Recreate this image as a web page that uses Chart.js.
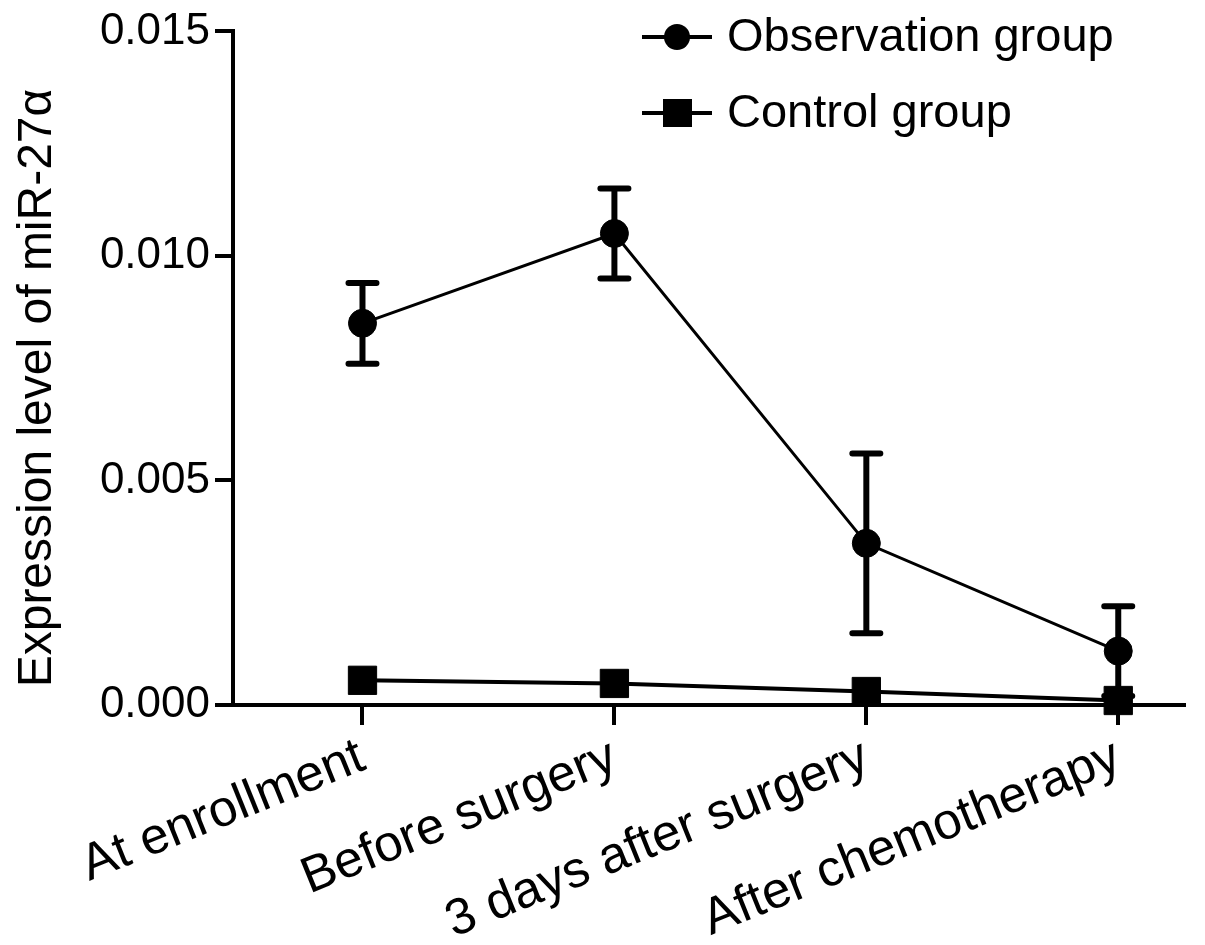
<!DOCTYPE html>
<html>
<head>
<meta charset="utf-8">
<script src="https://cdn.jsdelivr.net/npm/chart.js@4.4.1/dist/chart.umd.min.js"></script>
<style>
  html, body { margin: 0; padding: 0; background: #ffffff; }
  #wrap { width: 1205px; height: 945px; position: relative; }
</style>
</head>
<body>
<div id="wrap"><canvas id="c" width="1205" height="945"></canvas></div>
<script>
// ---- data ----
const categories = ['At enrollment', 'Before surgery', '3 days after surgery', 'After chemotherapy'];
const observationMean = [0.0085, 0.0105, 0.0036, 0.0012];
const observationErr = [0.0009, 0.0010, 0.0020, 0.0010];
const controlMean = [0.00055, 0.00048, 0.00030, 0.00010];
const yTickValues = [0, 0.005, 0.010, 0.015];
const seriesNames = ['Observation group', 'Control group'];
const yTitle = 'Expression level of miR-27\u03B1';

const FONT = "'Liberation Sans', Arial, sans-serif";

const toPoints = arr => arr.map((v, i) => ({ x: i, y: v }));

const errorBarPlugin = {
  id: 'errorBars',
  afterDatasetsDraw(chart) {
    const ctx = chart.ctx;
    const xs = chart.scales.x, ys = chart.scales.y;
    ctx.save();
    ctx.strokeStyle = '#000';
    observationMean.forEach((m, i) => {
      const e = observationErr[i];
      const px = xs.getPixelForValue(i);
      const top = ys.getPixelForValue(m + e);
      const bot = ys.getPixelForValue(Math.max(0, m - e));
      ctx.lineWidth = 6;
      ctx.lineCap = 'butt';
      ctx.beginPath();
      ctx.moveTo(px, top); ctx.lineTo(px, bot);
      ctx.stroke();
      ctx.lineCap = 'round';
      ctx.beginPath();
      ctx.moveTo(px - 14, top); ctx.lineTo(px + 14, top);
      if (m - e > 0) { ctx.moveTo(px - 14, bot); ctx.lineTo(px + 14, bot); }
      ctx.stroke();
    });
    ctx.restore();
  }
};

const textPlugin = {
  id: 'customText',
  afterDraw(chart) {
    const ctx = chart.ctx;
    ctx.save();
    ctx.fillStyle = '#000';
    ctx.strokeStyle = '#000';
    // legend
    ctx.font = '47px ' + FONT;
    ctx.textBaseline = 'middle';
    ctx.textAlign = 'left';
    const rows = [37, 113];
    rows.forEach((y, k) => {
      ctx.lineWidth = 4;
      ctx.beginPath();
      ctx.moveTo(642, y); ctx.lineTo(712, y);
      ctx.stroke();
      ctx.beginPath();
      if (k === 0) {
        ctx.arc(677, y, 13, 0, Math.PI * 2);
      } else {
        ctx.rect(663, y - 14, 29, 28);
      }
      ctx.fill();
      ctx.fillText(seriesNames[k], 727, y + 1);
    });
    // y axis title
    ctx.save();
    ctx.translate(38, 388);
    ctx.rotate(-Math.PI / 2);
    ctx.font = '48px ' + FONT;
    ctx.textAlign = 'center';
    ctx.textBaseline = 'middle';
    ctx.fillText(yTitle, 0, 0);
    ctx.restore();
    ctx.restore();
  }
};

new Chart(document.getElementById('c'), {
  type: 'line',
  data: {
    datasets: [
      {
        label: seriesNames[0],
        data: toPoints(observationMean),
        borderColor: '#000',
        backgroundColor: '#000',
        borderWidth: 3,
        pointStyle: 'circle',
        pointRadius: 14,
        pointBackgroundColor: '#000',
        pointBorderColor: '#000',
        pointBorderWidth: 1,
        tension: 0,
        clip: false
      },
      {
        label: seriesNames[1],
        data: toPoints(controlMean),
        borderColor: '#000',
        backgroundColor: '#000',
        borderWidth: 4,
        pointStyle: 'rect',
        pointRadius: 20,
        pointBackgroundColor: '#000',
        pointBorderColor: '#000',
        pointBorderWidth: 1,
        tension: 0,
        clip: false
      }
    ]
  },
  options: {
    responsive: false,
    animation: false,
    devicePixelRatio: 1,
    layout: { padding: { left: 0, right: 17, top: 28, bottom: 0 } },
    plugins: { legend: { display: false }, tooltip: { enabled: false } },
    scales: {
      x: {
        type: 'linear',
        min: -0.514,
        max: 3.261,
        afterBuildTicks: s => { s.ticks = categories.map((_, i) => ({ value: i })); },
        afterFit: s => { s.height = 240; },
        border: { display: true, color: '#000', width: 4 },
        grid: { display: true, drawOnChartArea: false, drawTicks: true, tickLength: 20, color: '#000', lineWidth: 4 },
        ticks: {
          autoSkip: false,
          maxRotation: 22,
          minRotation: 22,
          padding: 2,
          color: '#000',
          font: { family: FONT, size: 51 },
          callback: v => categories[v]
        }
      },
      y: {
        type: 'linear',
        min: 0,
        max: 0.015,
        afterBuildTicks: s => { s.ticks = yTickValues.map(v => ({ value: v })); },
        afterFit: s => { s.width = 233; },
        border: { display: true, color: '#000', width: 4 },
        grid: { display: true, drawOnChartArea: false, drawTicks: true, tickLength: 18, color: '#000', lineWidth: 4 },
        title: { display: false },
        ticks: {
          color: '#000',
          padding: 5,
          font: { family: FONT, size: 44 },
          callback: v => v.toFixed(3)
        }
      }
    }
  },
  plugins: [errorBarPlugin, textPlugin]
});
</script>
</body>
</html>
